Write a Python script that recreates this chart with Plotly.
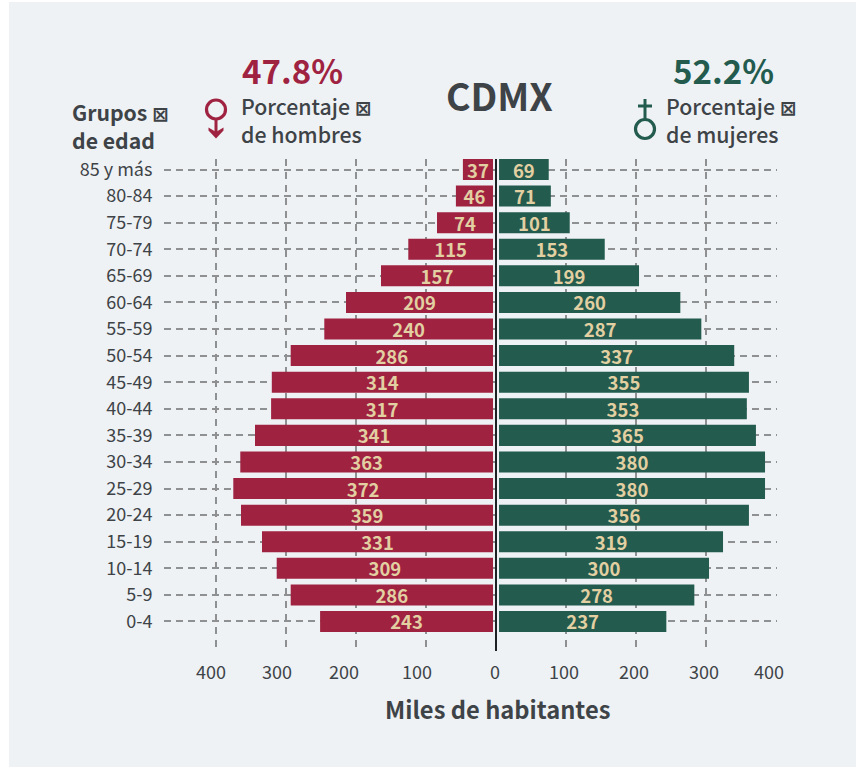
import plotly.graph_objects as go

categories = ["0-4", "5-9", "10-14", "15-19", "20-24", "25-29", "30-34", "35-39", "40-44",
              "45-49", "50-54", "55-59", "60-64", "65-69", "70-74", "75-79", "80-84", "85 y más"]
men_labels = [243, 286, 309, 331, 359, 372, 363, 341, 317, 314, 286, 240, 209, 157, 115, 74, 46, 37]
women_labels = [237, 278, 300, 319, 356, 380, 380, 365, 353, 355, 337, 287, 260, 199, 153, 101, 71, 69]
# Bar lengths as drawn in the picture (they differ slightly from the printed labels)
men_bars = [247, 289, 309, 330, 360, 371, 361, 340, 317, 316, 289, 241, 210, 160, 121, 80, 53, 43]
women_bars = [239, 279, 300, 320, 357, 380, 380, 367, 354, 357, 336, 289, 259, 200, 151, 101, 74, 71]
grid_ticks = [-400, -300, -200, -100, 0, 100, 200, 300, 400]
tick_labels = ["400", "300", "200", "100", "0", "100", "200", "300", "400"]
tick_label_pos = [-407, -313, -217, -113, -1, 97, 197, 297, 390]

W, H = 856, 767
L, R, T, B = 164, 777, 159, 651
RED, GREEN, INK, SAND = "#9F2241", "#235B4E", "#3E4347", "#E2CFA2"
PANEL = "#EEF2F5"
FONT = "Noto Sans CJK JP"
TOFU = '<span style="font-family:\'DejaVu Sans\';font-size:20px;font-weight:700">\u22a0</span>'


def px(x):
    return (x - L) / (R - L)


def py(y):
    return (B - y) / (B - T)


fig = go.Figure()
fig.add_trace(go.Bar(y=categories, x=[-v for v in men_bars], base=-4.3, orientation="h", width=0.79,
                     marker=dict(color=RED, line_width=0), text=[str(v) for v in men_labels],
                     textposition="inside", insidetextanchor="middle", textangle=0, constraintext="none",
                     textfont=dict(family=FONT, size=18.5, color=SAND, weight=700), hoverinfo="skip"))
fig.add_trace(go.Bar(y=categories, x=women_bars, base=4.3, orientation="h", width=0.79,
                     marker=dict(color=GREEN, line_width=0), text=[str(v) for v in women_labels],
                     textposition="inside", insidetextanchor="middle", textangle=0, constraintext="none",
                     textfont=dict(family=FONT, size=18.5, color=SAND, weight=700), hoverinfo="skip"))


def note(x, y, text, size, color=INK, weight=400, anchor="center"):
    fig.add_annotation(xref="paper", yref="paper", x=px(x), y=py(y), text=text, showarrow=False,
                       xanchor=anchor, yanchor="middle", align="left",
                       font=dict(family=FONT, size=size, color=color, weight=weight))


note(292, 70.5, "47.8%", 33, RED, 700)
note(723, 70.5, "52.2%", 33, GREEN, 700)
note(499, 95, "CDMX", 37.5, INK, 700)
note(239, 119, "Porcentaje " + TOFU + "<br>de hombres", 21.3, INK, 500, "left")
note(664, 119, "Porcentaje " + TOFU + "<br>de mujeres", 21.3, INK, 500, "left")
note(70, 125, "Grupos " + TOFU + "<br>de edad", 21.2, INK, 700, "left")
note(497, 709, "Miles de habitantes", 23.7, INK, 700)
for pos, lab in zip(tick_label_pos, tick_labels):
    fig.add_annotation(xref="x", yref="paper", x=pos, y=py(671), text=lab, showarrow=False,
                       xanchor="center", yanchor="middle", font=dict(family=FONT, size=18, color=INK))


def line(x0, y0, x1, y1, color):
    return dict(type="line", xref="paper", yref="paper", x0=px(x0), y0=py(y0), x1=px(x1), y1=py(y1),
                line=dict(color=color, width=3))


def circle(cx, cy, r, color):
    return dict(type="circle", xref="paper", yref="paper", x0=px(cx - r), x1=px(cx + r),
                y0=py(cy - r), y1=py(cy + r), line=dict(color=color, width=3.2))


arrow_pts = [(208.5, 127.5), (216, 132), (223.5, 127.5), (223.5, 130.5), (216, 138.5), (208.5, 130.5)]
head = "M " + " L ".join("{} {}".format(px(a), py(b)) for a, b in arrow_pts) + " Z"
shapes = [
    dict(type="rect", xref="paper", yref="paper", x0=px(9), x1=px(W), y0=py(2), y1=py(H),
         fillcolor=PANEL, line_width=0, layer="below"),
    circle(216, 109.5, 9.5, RED), line(216, 119, 216, 133, RED),
    dict(type="path", xref="paper", yref="paper", path=head, fillcolor=RED, line_width=0),
    circle(645, 129, 9.5, GREEN), line(645, 99, 645, 119, GREEN), line(638, 106, 652, 106, GREEN),
]

fig.update_layout(
    width=W, height=H, margin=dict(l=L, r=W - R, t=T, b=H - B, autoexpand=False),
    paper_bgcolor="white", plot_bgcolor="rgba(0,0,0,0)", barmode="overlay", showlegend=False,
    shapes=shapes,
    xaxis=dict(range=[-474.3, 401.4], tickmode="array", tickvals=grid_ticks, showticklabels=False,
               showgrid=True, gridcolor="#8E9091", gridwidth=1.5, griddash="7px,6px", ticks="",
               zeroline=True, zerolinecolor="#1E2124", zerolinewidth=2.4, showline=False),
    yaxis=dict(type="category", categoryorder="array", categoryarray=categories, range=[-1.11, 17.395],
               showgrid=True, gridcolor="#8E9091", gridwidth=1.5, griddash="7px,5px", zeroline=False,
               ticks="outside", ticklen=7, tickcolor="rgba(0,0,0,0)", showline=False,
               tickfont=dict(family=FONT, size=18, color=INK)),
)
fig.write_html("out.html", config={"displayModeBar": False},
               post_script="document.body.style.margin='0';document.documentElement.style.overflow='hidden';")
